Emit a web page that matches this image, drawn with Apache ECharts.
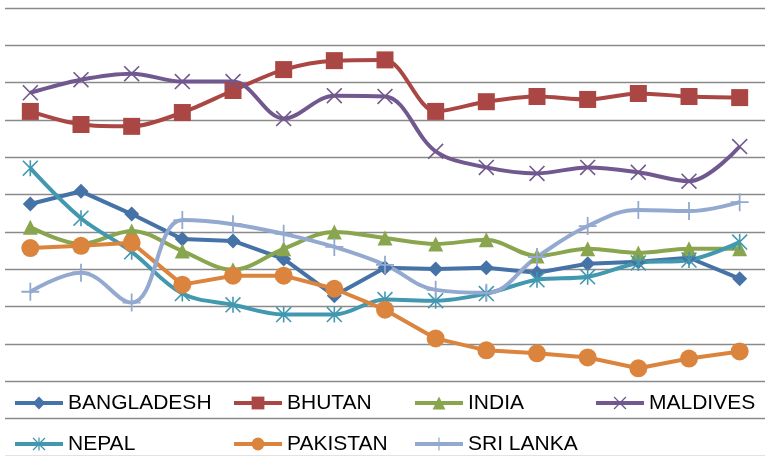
<!DOCTYPE html>
<html>
<head>
<meta charset="utf-8">
<script src="https://cdn.jsdelivr.net/npm/echarts@6/dist/echarts.min.js"></script>
<style>
html,body{margin:0;padding:0;background:#fff;}
#chart{width:765px;height:456px;}
</style>
</head>
<body>
<div id="chart"></div>
<script>
// 15 periods, labels are not shown in the picture
const periods = ['1','2','3','4','5','6','7','8','9','10','11','12','13','14','15'];

const bangladesh = [67.5,70.9,64.8,58.1,57.6,52.8,42.9,50.4,50.1,50.4,49.1,51.5,52.0,53.1,47.5];
const bhutan     = [92.3,88.8,88.3,92.0,97.9,103.5,105.9,106.1,92.3,94.9,96.3,95.5,97.1,96.3,96.0];
const india      = [61.3,56.8,60.3,54.9,49.9,55.5,60.0,58.4,56.8,57.9,53.6,55.5,54.4,55.5,55.5];
const maldives   = [97.3,100.8,102.4,100.3,100.3,90.4,96.5,96.3,81.6,77.3,75.7,77.3,76.0,73.6,82.9];
const nepal      = [77.1,63.7,54.7,43.5,40.5,37.9,37.9,41.9,41.6,43.5,47.2,48.0,51.7,52.5,57.3];
const pakistan   = [55.7,56.3,57.1,45.9,48.3,48.3,44.8,39.2,31.5,28.3,27.5,26.4,23.5,26.1,28.0];
const sriLanka   = [44.0,49.1,41.1,63.2,62.1,59.5,56.0,51.2,44.5,43.7,53.3,61.6,65.9,65.6,68.0];

// excel style marker shapes
const xMark = 'path://M0,1.4L1.4,0L10,8.6L18.6,0L20,1.4L11.4,10L20,18.6L18.6,20L10,11.4L1.4,20L0,18.6L8.6,10Z';
const starMark = 'path://M0,1.4L1.4,0L10,8.6L18.6,0L20,1.4L11.4,10L20,18.6L18.6,20L10,11.4L1.4,20L0,18.6L8.6,10Z M9,0L11,0L11,20L9,20Z';
const plusMark = 'path://M9,0L11,0L11,9L20,9L20,11L11,11L11,20L9,20L9,11L0,11L0,9L9,9Z';

function line(name, data, color, symbol, size, smooth) {
  return {
    name: name,
    type: 'line',
    data: data,
    smooth: smooth,
    symbol: symbol,
    symbolSize: size,
    showAllSymbol: true,
    lineStyle: {color: color, width: 4},
    itemStyle: {color: color, borderWidth: 0}
  };
}

const legendCols = [
  [13, ['BANGLADESH', 'NEPAL']],
  [232, ['BHUTAN', 'PAKISTAN']],
  [413, ['INDIA', 'SRI LANKA']],
  [594, ['MALDIVES']]
];

const chart = echarts.init(document.getElementById('chart'));
chart.setOption({
  animation: false,
  backgroundColor: '#fff',
  grid: {left: 5, top: 8, width: 764, height: 450, containLabel: false},
  legend: legendCols.map(c => ({
    orient: 'vertical',
    left: c[0],
    top: 392,
    padding: 0,
    itemWidth: 48,
    itemHeight: 16,
    itemGap: 19,
    selectedMode: false,
    data: c[1],
    lineStyle: {width: 4},
    textStyle: {fontSize: 21, lineHeight: 22, color: '#000', fontFamily: 'Liberation Sans'}
  })),
  xAxis: {
    type: 'category',
    data: periods,
    boundaryGap: true,
    axisLine: {show: false},
    axisTick: {show: false},
    axisLabel: {show: false}
  },
  yAxis: {
    type: 'value',
    min: 0,
    max: 120,
    interval: 10,
    axisLine: {show: false},
    axisTick: {show: false},
    axisLabel: {show: false},
    splitLine: {lineStyle: {color: '#8a8a8a', width: 1.3}}
  },
  series: [
    line('BANGLADESH', bangladesh, '#4572A7', 'diamond', 15, false),
    line('BHUTAN', bhutan, '#AA4643', 'rect', 17, 0.3),
    line('INDIA', india, '#89A54E', 'triangle', 15, 0.35),
    line('MALDIVES', maldives, '#71588F', xMark, 16, 0.35),
    line('NEPAL', nepal, '#4198AF', starMark, 16, 0.35),
    line('PAKISTAN', pakistan, '#DB843D', 'circle', 18, false),
    line('SRI LANKA', sriLanka, '#93A9CF', plusMark, 18, 0.4)
  ]
});
</script>
</body>
</html>
